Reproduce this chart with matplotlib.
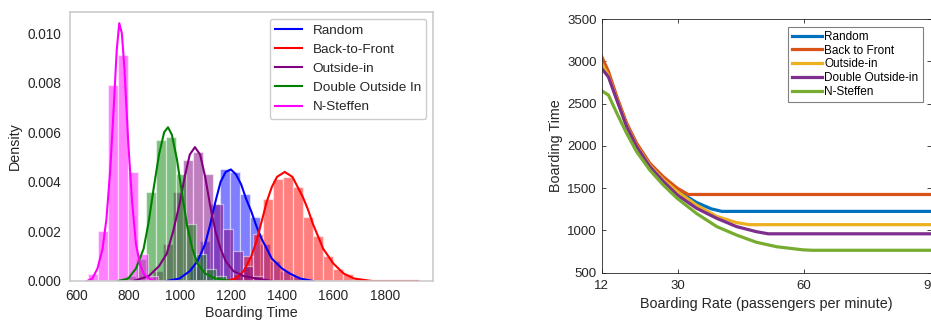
import numpy as np
import matplotlib
matplotlib.use('Agg')
import matplotlib.pyplot as plt

plt.rcParams['font.family'] = ['Liberation Sans', 'DejaVu Sans']

# ---- left panel: histogram + kde of boarding time ----
labels_left = ['Random', 'Back-to-Front', 'Outside-in', 'Double Outside In', 'N-Steffen']
colors_left = ['blue', 'red', 'purple', 'green', 'magenta']
bin_width = 39

random_bins = [1041, 1080, 1119, 1158, 1197, 1236, 1275, 1314, 1353, 1392, 1431]
random_hist = [0.0006, 0.0016, 0.0031, 0.0045, 0.0044, 0.0035, 0.0026, 0.0015, 0.0008, 0.0004, 0.0002]
b2f_bins = [1209, 1248, 1287, 1326, 1365, 1404, 1443, 1482, 1521, 1560, 1599, 1638, 1677, 1716]
b2f_hist = [0.0003, 0.0010, 0.0019, 0.0033, 0.0041, 0.0042, 0.0038, 0.0026, 0.0018, 0.0010, 0.0005, 0.0003, 0.0001, 0.00005]
outin_bins = [897, 936, 975, 1014, 1053, 1092, 1131, 1170, 1209, 1248, 1287]
outin_hist = [0.0004, 0.0015, 0.0036, 0.0049, 0.0052, 0.0043, 0.0031, 0.0021, 0.0012, 0.0006, 0.0002]
double_bins = [790, 829, 868, 907, 946, 985, 1024, 1063, 1102, 1141]
double_hist = [0.0002, 0.0009, 0.0036, 0.0057, 0.0058, 0.0043, 0.0023, 0.0011, 0.0005, 0.0002]
steffen_bins = [644, 683, 722, 761, 800, 839, 878]
steffen_hist = [0.0003, 0.0020, 0.0079, 0.0091, 0.0044, 0.0011, 0.0002]

random_kde_x = [950, 1000, 1040, 1070, 1100, 1120, 1140, 1160, 1180, 1200, 1220, 1240, 1260, 1280, 1300, 1320, 1340, 1360, 1380, 1400, 1430, 1470, 1520]
random_kde_y = [0.0, 0.0001, 0.0004, 0.0008, 0.0015, 0.0023, 0.0032, 0.0040, 0.0044, 0.0045, 0.0043, 0.0039, 0.0033, 0.0028, 0.0022, 0.0017, 0.0013, 0.0009, 0.0007, 0.0005, 0.0003, 0.0001, 0.0]
b2f_kde_x = [1180, 1220, 1250, 1280, 1300, 1320, 1340, 1360, 1380, 1410, 1440, 1460, 1480, 1500, 1520, 1540, 1560, 1580, 1600, 1620, 1640, 1680, 1750, 1930]
b2f_kde_y = [0.0, 0.0001, 0.0004, 0.0010, 0.0016, 0.0024, 0.0032, 0.0038, 0.0042, 0.0044, 0.0042, 0.0038, 0.0034, 0.0029, 0.0023, 0.0018, 0.0013, 0.0010, 0.0007, 0.0005, 0.0003, 0.0001, 0.0, 0.0]
outin_kde_x = [820, 880, 920, 950, 975, 1000, 1020, 1040, 1060, 1080, 1100, 1120, 1140, 1160, 1180, 1210, 1250, 1300, 1360]
outin_kde_y = [0.0, 0.0002, 0.0006, 0.0011, 0.0020, 0.0031, 0.0042, 0.0051, 0.0054, 0.0051, 0.0042, 0.0030, 0.0020, 0.0013, 0.0008, 0.0004, 0.0002, 0.0001, 0.0]
double_kde_x = [760, 800, 830, 860, 880, 900, 920, 940, 955, 970, 990, 1010, 1030, 1050, 1070, 1100, 1140, 1200]
double_kde_y = [0.0, 0.0001, 0.0005, 0.0013, 0.0024, 0.0038, 0.0051, 0.0060, 0.0062, 0.0059, 0.0049, 0.0035, 0.0022, 0.0013, 0.0007, 0.0003, 0.0001, 0.0]
steffen_kde_x = [640, 660, 680, 700, 715, 730, 745, 755, 765, 775, 785, 800, 815, 830, 845, 860, 880, 900]
steffen_kde_y = [0.0, 0.0001, 0.0005, 0.0013, 0.0025, 0.0045, 0.0073, 0.0093, 0.0104, 0.0100, 0.0086, 0.0056, 0.0032, 0.0015, 0.0007, 0.0003, 0.0001, 0.0]

bins_left = [random_bins, b2f_bins, outin_bins, double_bins, steffen_bins]
hists_left = [random_hist, b2f_hist, outin_hist, double_hist, steffen_hist]
kde_x = [random_kde_x, b2f_kde_x, outin_kde_x, double_kde_x, steffen_kde_x]
kde_y = [random_kde_y, b2f_kde_y, outin_kde_y, double_kde_y, steffen_kde_y]

# ---- right panel: boarding time vs boarding rate ----
labels_right = ['Random', 'Back to Front', 'Outside-in', 'Double Outside-in', 'N-Steffen']
colors_right = ['#0072BD', '#D95319', '#EDB120', '#7E2F8E', '#77AC30']
random_rate = [12, 13.6, 15.6, 17.9, 20.3, 23.4, 26.6, 29.9, 34.5, 38, 40.5, 90]
random_time = [3000, 2850, 2560, 2250, 2010, 1780, 1610, 1470, 1330, 1255, 1225, 1225]
b2f_rate = [12, 13.6, 15.6, 17.9, 20.3, 23.4, 26.6, 29.9, 32.5, 90]
b2f_time = [3055, 2880, 2580, 2270, 2030, 1795, 1635, 1500, 1425, 1425]
outin_rate = [12, 13.6, 15.6, 17.9, 20.3, 23.4, 26.6, 29.9, 34.5, 39.3, 44, 47, 90]
outin_time = [2975, 2830, 2550, 2240, 2000, 1770, 1600, 1460, 1300, 1165, 1092, 1068, 1068]
double_rate = [12, 13.6, 15.6, 17.9, 20.3, 23.4, 26.6, 29.9, 34.5, 39.3, 44, 48.7, 51.5, 90]
double_time = [2915, 2815, 2540, 2230, 1990, 1755, 1580, 1420, 1262, 1143, 1045, 985, 960, 960]
steffen_rate = [12, 13.6, 15.6, 17.9, 20.3, 23.4, 26.6, 29.9, 34.5, 39.3, 44, 48.7, 53.5, 59.8, 62, 90]
steffen_time = [2652, 2600, 2385, 2150, 1930, 1715, 1537, 1380, 1200, 1045, 945, 860, 807, 770, 765, 765]

rates = [random_rate, b2f_rate, outin_rate, double_rate, steffen_rate]
times = [random_time, b2f_time, outin_time, double_time, steffen_time]

fig = plt.figure(figsize=(9.31, 3.22), dpi=100)

# left
ax1 = fig.add_axes([70/931, 41/322, 363/931, 269/322])
for b, h, kx, ky, c, lab in zip(bins_left, hists_left, kde_x, kde_y, colors_left, labels_left):
    ax1.bar(b, h, width=bin_width, align='edge', color=c, alpha=0.5, edgecolor='white', linewidth=0.9)
    ax1.plot(kx, ky, color=c, lw=1.5, label=lab)
ax1.set_xlim(573, 1988)
ax1.set_ylim(0, 0.01085)
ax1.set_xticks([600, 800, 1000, 1200, 1400, 1600, 1800])
ax1.set_yticks([0, 0.002, 0.004, 0.006, 0.008, 0.010])
ax1.set_yticklabels(['0.000', '0.002', '0.004', '0.006', '0.008', '0.010'])
ax1.tick_params(length=0, labelsize=9.8, colors='0.15')
ax1.tick_params(axis='y', pad=6.5)
ax1.tick_params(axis='x', pad=6)
for s in ax1.spines.values():
    s.set_color('0.8')
    s.set_linewidth(1.2)
ax1.set_xlabel('Boarding Time', fontsize=10.3, color='0.15')
ax1.set_ylabel('Density', fontsize=10.3, color='0.15')
ax1.xaxis.set_label_coords(0.5, -31.7/269)
ax1.xaxis.label.set_verticalalignment('center')
ax1.yaxis.set_label_coords(-55/363, 0.5)
ax1.yaxis.label.set_verticalalignment('center')
leg1 = ax1.legend(loc='upper right', fontsize=9.7, edgecolor='0.8', framealpha=1)
for t in leg1.get_texts():
    t.set_color('0.15')

# right
ax2 = fig.add_axes([601.7/931, 49.3/322, 328.8/931, 253.7/322])
for r, t, c, lab in zip(rates, times, colors_right, labels_right):
    ax2.plot(r, t, color=c, lw=2.3, label=lab)
ax2.set_xlim(12, 90)
ax2.set_ylim(500, 3500)
ax2.set_xticks([12, 30, 60, 90])
ax2.set_yticks([500, 1000, 1500, 2000, 2500, 3000, 3500])
ax2.tick_params(direction='in', length=3, width=0.6, top=True, right=True, labelsize=9.5,
                colors='0.15')
ax2.tick_params(axis='x', pad=5)
for s in ax2.spines.values():
    s.set_color('0.15')
    s.set_linewidth(0.6)
ax2.set_xlabel('Boarding Rate (passengers per minute)', fontsize=10.4, color='0.15')
ax2.set_ylabel('Boarding Time', fontsize=10.3, color='0.15')
ax2.xaxis.set_label_coords(0.5, -31.3/253.7)
ax2.xaxis.label.set_verticalalignment('center')
ax2.yaxis.set_label_coords(-45.7/328.8, 0.5)
ax2.yaxis.label.set_verticalalignment('center')
leg2 = ax2.legend(loc='upper right', bbox_to_anchor=(1 - 8/328.8, 1 - 7.7/253.7), borderaxespad=0,
                  fontsize=8.5, fancybox=False, edgecolor='0.5', framealpha=1,
                  handlelength=2.5, handletextpad=0.2, labelspacing=0.15, borderpad=0.35)
leg2.get_frame().set_linewidth(0.8)

fig.savefig('out.png', dpi=100)
